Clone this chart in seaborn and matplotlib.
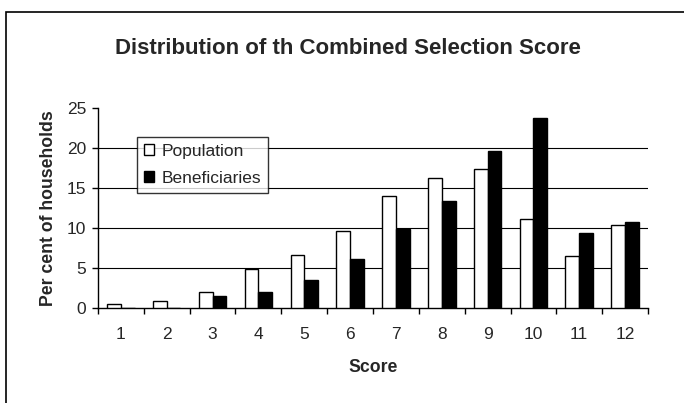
import matplotlib.pyplot as plt
import seaborn as sns
import pandas as pd
from matplotlib.patches import Rectangle

scores = [1, 2, 3, 4, 5, 6, 7, 8, 9, 10, 11, 12]
population = [0.4, 0.8, 2.0, 4.8, 6.6, 9.6, 14.0, 16.2, 17.3, 11.1, 6.5, 10.3]
beneficiaries = [0.0, 0.0, 1.5, 2.0, 3.5, 6.1, 9.8, 13.3, 19.6, 23.7, 9.3, 10.75]
y_ticks = [0, 5, 10, 15, 20, 25]

df = pd.DataFrame({
    'Score': scores * 2,
    'Value': population + beneficiaries,
    'Group': ['Population'] * len(scores) + ['Beneficiaries'] * len(scores),
})

sns.set_theme(style="white")
plt.rcParams['font.family'] = ['Liberation Sans', 'DejaVu Sans']

fig = plt.figure(figsize=(6.84, 4.03), dpi=100)
W, H = 684, 403
ax = fig.add_axes([98 / W, 1 - 307.5 / H, 550 / W, 199.5 / H])

# cadre extérieur du graphique
fig.patches.append(Rectangle((6 / W, -0.05), 1.0, 1 - 12 / H + 0.05,
                             transform=fig.transFigure, fill=False,
                             edgecolor='black', lw=1.2))

sns.barplot(data=df, x='Score', y='Value', hue='Group',
            palette={'Population': 'white', 'Beneficiaries': 'black'},
            edgecolor='black', linewidth=1, width=0.6, ax=ax, zorder=3)

ax.set_ylim(0, 25)
ax.set_xlim(-0.5, len(scores) - 0.5)
ax.set_yticks(y_ticks)
ax.set_yticklabels([str(t) for t in y_ticks], fontsize=12.5)
for t in y_ticks[1:-1]:
    ax.axhline(t, color='black', lw=0.8, zorder=1)

ax.set_xticks(range(len(scores)))
ax.set_xticklabels([str(s) for s in scores], fontsize=12.5)
ax.set_xticks([i - 0.5 for i in range(len(scores) + 1)], minor=True)
ax.tick_params(axis='x', which='major', length=0, pad=14)
ax.tick_params(axis='x', which='minor', length=4, width=1, color='black', bottom=True)
ax.tick_params(axis='y', length=4, width=1, color='black', left=True, pad=4.5)

for s in ['top', 'right']:
    ax.spines[s].set_visible(False)
for s in ['left', 'bottom']:
    ax.spines[s].set_color('black')
    ax.spines[s].set_linewidth(1)

ax.set_xlabel("Score", fontsize=12.7, fontweight='bold', labelpad=12)
ax.set_ylabel("Per cent of households", fontsize=12.7, fontweight='bold', labelpad=7)

fig.text(348 / W, 1 - 48 / H, "Distribution of th Combined Selection Score",
         fontsize=16, fontweight='bold', ha='center', va='center')

leg = ax.legend(loc='upper left', bbox_to_anchor=(39 / 550, 1 - 29 / 199.5),
                fontsize=12.5, frameon=True, fancybox=False, shadow=False,
                handlelength=0.6, handleheight=0.6, handletextpad=0.4,
                borderpad=0.4, labelspacing=0.7, borderaxespad=0)
leg.get_frame().set_edgecolor('black')
leg.get_frame().set_linewidth(1)
leg.set_zorder(5)

fig.savefig('out.png', dpi=100)
